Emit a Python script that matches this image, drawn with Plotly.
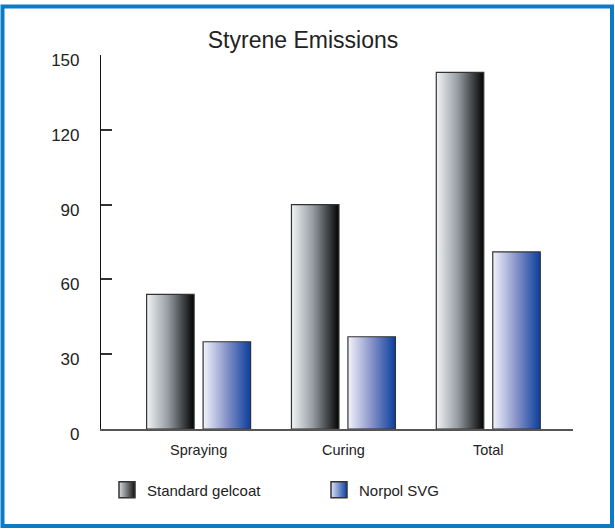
import plotly.graph_objects as go

# ---- data ----
categories = ["Spraying", "Curing", "Total"]
standard_gelcoat = [54, 90, 143]
norpol_svg = [35, 37, 71]
series_names = ["Standard gelcoat", "Norpol SVG"]
y_tick_values = [0, 30, 60, 90, 120, 150]
y_tick_labels = ["0", "30", "60", "90", "120", "150"]

# ---- style ----
W, H = 615, 530
ML, MR, MT, MB = 101, 42, 55, 101
FONT = "Liberation Sans, Arial, sans-serif"
TXT = "#222222"
BAR_W = 0.328
BAR_OFF = 0.195
scales = {
    "Standard gelcoat": [[0, "#f2f4f6"], [0.45, "#969da2"], [1, "#020202"]],
    "Norpol SVG": [[0, "#f3f4fb"], [0.5, "#8792c8"], [1, "#0a3f9e"]],
}
legend_light = {"Standard gelcoat": "#d8dcdf", "Norpol SVG": "#dfe3f6"}
legend_dark = {"Standard gelcoat": "#111111", "Norpol SVG": "#0a3f9e"}

fig = go.Figure()

for s_idx, (name, values) in enumerate(zip(series_names, [standard_gelcoat, norpol_svg])):
    off = -BAR_OFF if s_idx == 0 else BAR_OFF
    for i, v in enumerate(values):
        c = i + off
        x0, x1 = c - BAR_W / 2, c + BAR_W / 2
        fig.add_trace(go.Scatter(
            x=[x0, x1, x1, x0, x0],
            y=[0, 0, v, v, 0],
            mode="lines",
            fill="toself",
            fillgradient=dict(type="horizontal", colorscale=scales[name]),
            line=dict(color="#333333", width=1.2),
            showlegend=False,
            hoverinfo="text",
            text=f"{name}, {categories[i]}: {v}",
            name=name,
        ))
    # legend entry
    fig.add_trace(go.Scatter(
        x=[None], y=[None],
        mode="markers",
        name=name,
        marker=dict(symbol="square", size=18, color=legend_light[name],
                    gradient=dict(type="horizontal", color=legend_dark[name]),
                    line=dict(color="#333333", width=1.5)),
        showlegend=True,
    ))

plot_w = W - ML - MR
plot_h = H - MT - MB


def px_to_paper_x(px):
    return (px - ML) / plot_w


def px_to_paper_y(py):
    return (H - MB - py) / plot_h


fig.update_layout(
    width=W, height=H,
    margin=dict(l=ML, r=MR, t=MT, b=MB, pad=0),
    paper_bgcolor="white",
    plot_bgcolor="white",
    font=dict(family=FONT, color=TXT),
    title=dict(text="Styrene Emissions", x=303 / W, xanchor="center",
               y=1 - 40 / H, yanchor="middle", yref="container",
               font=dict(size=23, color=TXT, family=FONT)),
    xaxis=dict(
        range=[-0.674, 2.585],
        tickmode="array",
        tickvals=list(range(len(categories))),
        ticktext=categories,
        showgrid=False, zeroline=False,
        showline=True, linecolor="#555555", linewidth=2,
        ticks="", ticklabelstandoff=7,
        tickfont=dict(size=14.5, color=TXT),
    ),
    yaxis=dict(
        range=[0, 150],
        tickmode="array",
        tickvals=y_tick_values,
        ticktext=y_tick_labels,
        showgrid=False, zeroline=False,
        showline=True, linecolor="#111111", linewidth=1.2,
        ticks="inside", ticklen=11, tickwidth=1.5, tickcolor="#333333",
        ticklabelstandoff=17, ticklabelshift=5,
        tickfont=dict(size=17, color=TXT),
    ),
    showlegend=True,
    legend=dict(
        orientation="h",
        x=px_to_paper_x(107), xanchor="left",
        y=px_to_paper_y(490), yanchor="middle",
        font=dict(size=15, color=TXT),
        entrywidth=167, entrywidthmode="pixels",
        bgcolor="rgba(0,0,0,0)",
    ),
    shapes=[dict(
        type="rect", xref="paper", yref="paper",
        x0=px_to_paper_x(2.5), x1=px_to_paper_x(612),
        y0=px_to_paper_y(526), y1=px_to_paper_y(6.5),
        line=dict(color="#0d7bc4", width=4),
        fillcolor="rgba(0,0,0,0)",
        layer="above",
    )],
)

fig.write_html("out.html", config={"displayModeBar": False},
               post_script="document.body.style.margin='0';")
